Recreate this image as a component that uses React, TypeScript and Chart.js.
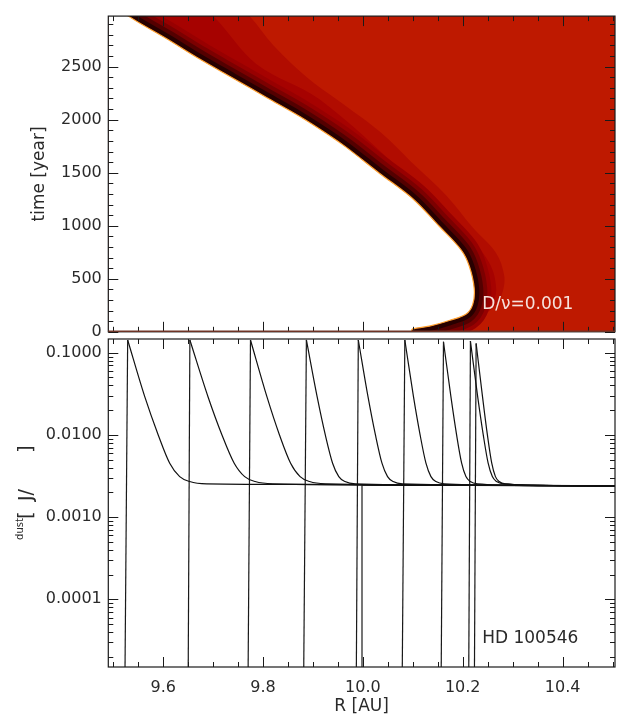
import React, { useEffect, useRef } from 'react';
import { Chart, registerables } from 'chart.js';
Chart.register(...registerables);

const W = 626;
const H = 722;
const FONT = 'DejaVu Sans';
const TEXT = '#2a2a2a';

// ---------- shared R axis ----------
const R_MIN = 9.49;
const R_MAX = 10.505;
const R_MAJOR = [9.6, 9.8, 10.0, 10.2, 10.4];
const R_MINOR = [9.5, 9.55, 9.65, 9.7, 9.75, 9.85, 9.9, 9.95, 10.05, 10.1, 10.15, 10.25, 10.3, 10.35, 10.45, 10.5];

// ---------- top panel ----------
const T_MIN = 0;
const T_MAX = 2977;
const T_MAJOR = [0, 500, 1000, 1500, 2000, 2500];
const T_MINOR = [100, 200, 300, 400, 600, 700, 800, 900, 1100, 1200, 1300, 1400, 1600, 1700, 1800, 1900, 2100, 2200, 2300, 2400, 2600, 2700, 2800, 2900];

// edge of the dust-free (white) region
const EDGE_R = [9.400, 9.530, 9.607, 9.673, 9.740, 9.807, 9.873, 9.933, 9.967, 10.033, 10.100, 10.153, 10.197, 10.213, 10.223, 10.220, 10.207, 10.173, 10.133, 10.100, 10.097, 10.090];
const EDGE_T = [3400, 2977, 2763, 2572, 2391, 2210, 2033, 1852, 1739, 1496, 1255, 995, 771, 621, 409, 258, 168, 107, 53, 28, 0, -400];

// outer contour (darker-red band boundary)
const BAND1_R = [9.700, 9.773, 9.820, 9.887, 9.947, 10.033, 10.100, 10.167, 10.220, 10.267, 10.283, 10.280, 10.267, 10.233, 10.173, 10.119, 10.103, 10.100];
const BAND1_T = [3300, 2977, 2705, 2403, 2192, 1890, 1587, 1285, 983, 741, 530, 379, 258, 137, 62, 34, 0, -400];

// inner contour
const BAND2_R = [9.620, 9.700, 9.787, 9.913, 10.089, 10.197, 10.253, 10.267, 10.257, 10.213, 10.153, 10.103, 10.100];
const BAND2_T = [3300, 2977, 2524, 2192, 1467, 986, 651, 406, 261, 134, 53, 0, -400];

// far corners that close the filled regions outside the plot
const OUT_R = 9.1;
const OUT_T_LOW = -400;
const OUT_T_HIGH = 3400;

// ---------- bottom panel ----------
const V_MIN = 1.5e-5;
const V_MAX = 0.147;
const V_MAJOR = [1e-4, 1e-3, 1e-2, 1e-1];
const V_LABELS = ['0.0001', '0.0010', '0.0100', '0.1000'];
const V_MINOR = [
  2e-5, 3e-5, 4e-5, 5e-5, 6e-5, 7e-5, 8e-5, 9e-5,
  2e-4, 3e-4, 4e-4, 5e-4, 6e-4, 7e-4, 8e-4, 9e-4,
  2e-3, 3e-3, 4e-3, 5e-3, 6e-3, 7e-3, 8e-3, 9e-3,
  2e-2, 3e-2, 4e-2, 5e-2, 6e-2, 7e-2, 8e-2, 9e-2,
];

// profiles: first point = foot of the jump, second = peak, then decay to plateau
const P0_R = [9.9978, 9.9982, 10.2, 10.505];
const P0_V = [1.2e-5, 0.00247, 0.00243, 0.0024];
const P1_R = [9.5234, 9.5288, 9.563, 9.590, 9.613, 9.633, 9.653, 9.687, 9.9, 10.2, 10.505];
const P1_V = [1.2e-5, 0.143, 0.0292, 0.0100, 0.00453, 0.00311, 0.00271, 0.00254, 0.0025, 0.00245, 0.0024];
const P2_R = [9.650, 9.6534, 9.6897, 9.7177, 9.7422, 9.7632, 9.7842, 9.8193, 10.1, 10.505];
const P2_V = [1.2e-5, 0.143, 0.0292, 0.0100, 0.00453, 0.00311, 0.00271, 0.00254, 0.00245, 0.0024];
const P3_R = [9.770, 9.7748, 9.8077, 9.8329, 9.8552, 9.8742, 9.8932, 9.9249, 10.2, 10.505];
const P3_V = [1.2e-5, 0.143, 0.0292, 0.0100, 0.00453, 0.00311, 0.00271, 0.00254, 0.00244, 0.0024];
const P4_R = [9.8814, 9.8868, 9.9083, 9.9247, 9.9393, 9.9517, 9.9641, 9.9848, 10.2, 10.505];
const P4_V = [1.2e-5, 0.143, 0.0292, 0.0100, 0.00453, 0.00311, 0.00271, 0.00254, 0.00244, 0.0024];
const P5_R = [9.9868, 9.9908, 10.0102, 10.0251, 10.0382, 10.0494, 10.0606, 10.0793, 10.3, 10.505];
const P5_V = [1.2e-5, 0.143, 0.0292, 0.0100, 0.00453, 0.00311, 0.00271, 0.00254, 0.00243, 0.0024];
const P6_R = [10.0788, 10.084, 10.1013, 10.1146, 10.1263, 10.1363, 10.1463, 10.163, 10.3, 10.505];
const P6_V = [1.2e-5, 0.143, 0.0292, 0.0100, 0.00453, 0.00311, 0.00271, 0.00254, 0.00243, 0.0024];
const P7_R = [10.1568, 10.1614, 10.1763, 10.1877, 10.1978, 10.2064, 10.215, 10.2293, 10.35, 10.505];
const P7_V = [1.2e-5, 0.136, 0.0292, 0.0100, 0.00453, 0.00311, 0.00271, 0.00254, 0.00242, 0.0024];
const P8_R = [10.212, 10.2154, 10.2299, 10.2411, 10.2509, 10.2593, 10.2677, 10.2818, 10.4, 10.505];
const P8_V = [1.2e-5, 0.1387, 0.0292, 0.0100, 0.00453, 0.00311, 0.00271, 0.00254, 0.00242, 0.0024];
const P9_R = [10.2234, 10.2268, 10.2396, 10.2494, 10.2581, 10.2655, 10.2729, 10.2853, 10.4, 10.505];
const P9_V = [1.2e-5, 0.130, 0.0292, 0.0100, 0.00453, 0.00311, 0.00271, 0.00254, 0.00242, 0.0024];

const PROFILES = [
  [P0_R, P0_V], [P1_R, P1_V], [P2_R, P2_V], [P3_R, P3_V], [P4_R, P4_V],
  [P5_R, P5_V], [P6_R, P6_V], [P7_R, P7_V], [P8_R, P8_V], [P9_R, P9_V],
];

const zip = (xs: number[], ys: number[]) => xs.map((x, i) => ({ x, y: ys[i] }));

const frameTicks = {
  id: 'frameTicks',
  beforeDatasetsDraw(chart: any, _a: any, opts: any) {
    if (!opts.background) return;
    const { ctx, chartArea: a } = chart;
    ctx.save();
    ctx.fillStyle = opts.background;
    ctx.fillRect(a.left, a.top, a.right - a.left, a.bottom - a.top);
    ctx.restore();
  },
  afterDatasetsDraw(chart: any, _a: any, opts: any) {
    const { ctx, chartArea: a, scales } = chart;
    const xs = scales.x;
    const ys = scales.y;
    ctx.save();
    ctx.strokeStyle = '#1a1a1a';
    ctx.lineWidth = 1;
    ctx.beginPath();
    const vx = (v: number, len: number) => {
      const p = Math.round(xs.getPixelForValue(v)) + 0.5;
      ctx.moveTo(p, a.bottom);
      ctx.lineTo(p, a.bottom - len);
      ctx.moveTo(p, a.top);
      ctx.lineTo(p, a.top + len);
    };
    const vy = (v: number, len: number) => {
      const p = Math.round(ys.getPixelForValue(v)) + 0.5;
      ctx.moveTo(a.left, p);
      ctx.lineTo(a.left + len, p);
      ctx.moveTo(a.right, p);
      ctx.lineTo(a.right - len, p);
    };
    opts.xMajor.forEach((v: number) => vx(v, 10));
    opts.xMinor.forEach((v: number) => vx(v, 5));
    opts.yMajor.forEach((v: number) => vy(v, 10));
    opts.yMinor.forEach((v: number) => vy(v, 5));
    ctx.stroke();
    ctx.lineWidth = 1.2;
    ctx.strokeRect(a.left, a.top, a.right - a.left, a.bottom - a.top);
    if (opts.bottomEdge) {
      ctx.strokeStyle = opts.bottomEdge;
      ctx.lineWidth = 1.5;
      ctx.beginPath();
      ctx.moveTo(a.left, a.bottom - 0.5);
      ctx.lineTo(a.right, a.bottom - 0.5);
      ctx.stroke();
    }
    ctx.restore();
  },
};

const labels = {
  id: 'labels',
  afterDraw(chart: any, _a: any, opts: any) {
    const { ctx, scales } = chart;
    ctx.save();
    (opts.items || []).forEach((it: any) => {
      ctx.font = `${it.size}px "${FONT}"`;
      ctx.fillStyle = it.color;
      ctx.textAlign = it.align || 'left';
      ctx.textBaseline = 'middle';
      const x = it.px !== undefined ? it.px : scales.x.getPixelForValue(it.x);
      const y = it.py !== undefined ? it.py : scales.y.getPixelForValue(it.y);
      ctx.save();
      ctx.translate(x, y);
      if (it.rot) ctx.rotate(it.rot);
      ctx.fillText(it.text, 0, 0);
      ctx.restore();
    });
    ctx.restore();
  },
};

const tickFont = { family: FONT, size: 16 };

function topConfig(): any {
  const edge = zip(EDGE_R, EDGE_T);
  const close = (pts: any[]) => [
    { x: OUT_R, y: OUT_T_LOW }, { x: OUT_R, y: OUT_T_HIGH }, ...pts,
  ];
  const white = close(edge);
  const band1 = close(zip(BAND1_R, BAND1_T));
  const band2 = close(zip(BAND2_R, BAND2_T));
  const poly = (data: any[], color: string) => ({
    data, fill: 'shape', backgroundColor: color, borderWidth: 0, borderColor: 'rgba(0,0,0,0)', pointRadius: 0, tension: 0.35,
  });
  const stroke = (w: number, color: string) => ({
    data: edge, fill: false, borderColor: color, borderWidth: w, pointRadius: 0, tension: 0.35,
    borderJoinStyle: 'round', borderCapStyle: 'round',
  });
  // paint order: first = bottom
  const paint = [
    poly(band1, '#B10C00'),
    poly(band2, '#A60200'),
    stroke(34, '#980000'),
    stroke(26, '#7C0000'),
    stroke(18, '#540000'),
    stroke(10, '#280000'),
    poly(white, '#FFFFFF'),
    { data: edge, fill: false, borderColor: '#FFA030', borderWidth: 1.2, pointRadius: 0, tension: 0.35 },
  ];
  return {
    type: 'line',
    data: { datasets: paint.reverse() },
    plugins: [frameTicks, labels],
    options: {
      animation: false,
      responsive: false,
      events: [],
      elements: { line: { capBezierPoints: false } },
      layout: { padding: { left: 0, top: 3.3, right: W - 615, bottom: H - 331.8 } },
      plugins: {
        legend: { display: false },
        tooltip: { enabled: false },
        frameTicks: { background: '#BE1900', bottomEdge: '#6e3426', xMajor: R_MAJOR, xMinor: R_MINOR, yMajor: T_MAJOR, yMinor: T_MINOR },
        labels: {
          items: [{ text: 'D/\u03BD=0.001', x: 10.239, y: 261, size: 17, color: '#F6E2DC' }],
        },
      },
      scales: {
        x: { type: 'linear', min: R_MIN, max: R_MAX, display: false },
        y: {
          type: 'linear', min: T_MIN, max: T_MAX,
          afterFit: (s: any) => { s.width = 108.3; },
          afterBuildTicks: (s: any) => { s.ticks = T_MAJOR.map((v) => ({ value: v })); },
          grid: { display: false, drawTicks: false },
          border: { display: false },
          ticks: { padding: 6.5, color: TEXT, font: tickFont, callback: (v: any) => String(v) },
          title: { display: true, text: 'time [year]', color: TEXT, font: { family: FONT, size: 17 }, padding: { top: 29.5, bottom: 0 } },
        },
      },
    },
  };
}

function bottomConfig(): any {
  const paint: any[] = [];
  PROFILES.forEach(([rs, vs]) => {
    paint.push({
      data: zip(rs.slice(0, 2), vs.slice(0, 2)), fill: false, borderColor: '#1a1a1a', borderWidth: 1.2, pointRadius: 0, tension: 0,
    });
    paint.push({
      data: zip(rs.slice(1), vs.slice(1)), fill: false, borderColor: '#111', borderWidth: 1.2, pointRadius: 0,
      cubicInterpolationMode: 'monotone',
    });
  });
  const rot = -Math.PI / 2;
  return {
    type: 'line',
    data: { datasets: paint },
    plugins: [frameTicks, labels],
    options: {
      animation: false,
      responsive: false,
      events: [],
      layout: { padding: { left: 0, top: 339, right: W - 615, bottom: 0 } },
      plugins: {
        legend: { display: false },
        tooltip: { enabled: false },
        frameTicks: { xMajor: R_MAJOR, xMinor: R_MINOR, yMajor: V_MAJOR, yMinor: V_MINOR },
        labels: {
          items: [
            { text: 'HD 100546', x: 10.239, y: 3.32e-5, size: 17, color: TEXT },
            { text: 'dust', px: 20, py: 529, size: 10, color: TEXT, rot, align: 'center' },
            { text: '[', px: 27, py: 515, size: 20, color: TEXT, rot, align: 'center' },
            { text: 'J/', px: 27, py: 495, size: 19, color: TEXT, rot, align: 'center' },
            { text: ']', px: 27, py: 449, size: 20, color: TEXT, rot, align: 'center' },
          ],
        },
      },
      scales: {
        x: {
          type: 'linear', min: R_MIN, max: R_MAX,
          afterFit: (s: any) => { s.height = 55; },
          afterBuildTicks: (s: any) => { s.ticks = R_MAJOR.map((v) => ({ value: v })); },
          grid: { display: false, drawTicks: false },
          border: { display: false },
          ticks: { padding: 11, color: TEXT, font: tickFont, maxRotation: 0, callback: (v: any) => Number(v).toFixed(1) },
          title: { display: true, text: 'R [AU]', color: TEXT, font: { family: FONT, size: 17 }, padding: { top: 0, bottom: 4.8 } },
        },
        y: {
          type: 'logarithmic', min: V_MIN, max: V_MAX,
          afterFit: (s: any) => { s.width = 108.3; },
          afterBuildTicks: (s: any) => { s.ticks = V_MAJOR.map((v) => ({ value: v })); },
          grid: { display: false, drawTicks: false },
          border: { display: false },
          ticks: {
            padding: 6.5, color: TEXT, font: tickFont,
            callback: (v: any) => {
              const i = V_MAJOR.findIndex((m) => Math.abs(m - v) / m < 1e-6);
              return i >= 0 ? V_LABELS[i] : '';
            },
          },
        },
      },
    },
  };
}

export default function App() {
  const topRef = useRef<HTMLCanvasElement>(null);
  const botRef = useRef<HTMLCanvasElement>(null);
  useEffect(() => {
    const c1 = new Chart(topRef.current as HTMLCanvasElement, topConfig());
    const c2 = new Chart(botRef.current as HTMLCanvasElement, bottomConfig());
    return () => { c1.destroy(); c2.destroy(); };
  }, []);
  const cs: React.CSSProperties = { position: 'absolute', left: 0, top: 0, width: W, height: H };
  return (
    <div style={{ position: 'fixed', left: 0, top: 0, width: W, height: H, background: '#fff' }}>
      <canvas ref={topRef} width={W} height={H} style={cs} />
      <canvas ref={botRef} width={W} height={H} style={cs} />
    </div>
  );
}
